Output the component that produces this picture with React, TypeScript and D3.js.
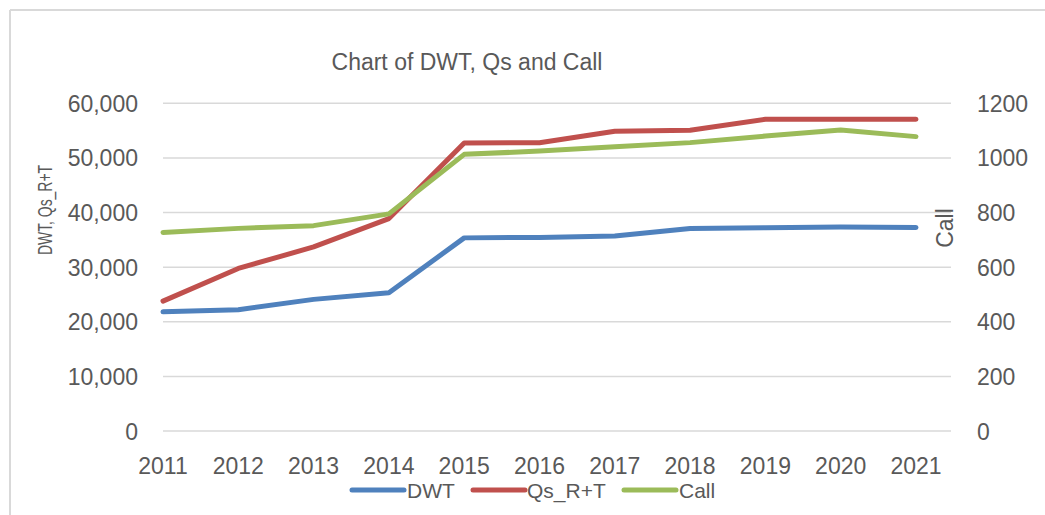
import React from 'react';
import * as d3 from 'd3';

const years = ['2011', '2012', '2013', '2014', '2015', '2016', '2017', '2018', '2019', '2020', '2021'];
const dwt = [21820, 22200, 24100, 25300, 35360, 35450, 35700, 37080, 37200, 37370, 37250];
const qsRT = [23780, 29760, 33700, 38900, 52740, 52780, 54870, 55060, 57070, 57100, 57070];
const call = [727, 742, 752, 795, 1013, 1025, 1041, 1056, 1080, 1102, 1078];
const leftTicks = [0, 10000, 20000, 30000, 40000, 50000, 60000];
const rightTicks = [0, 200, 400, 600, 800, 1000, 1200];

const W = 1045;
const H = 515;
const font = '"Liberation Sans", Arial, sans-serif';
const textColor = '#595959';

const App = () => {
    const x = d3.scalePoint().domain(years).range([163, 916]);
    const yL = d3.scaleLinear().domain([0, 60000]).range([431, 103.3]);
    const yR = d3.scaleLinear().domain([0, 1200]).range([431, 103.3]);

    const lineL = d3.line<number>()
        .x((d, i) => x(years[i]) as number)
        .y(d => yL(d));
    const lineR = d3.line<number>()
        .x((d, i) => x(years[i]) as number)
        .y(d => yR(d));

    const fmt = d3.format(',');

    const series = [
        {name: 'DWT', color: '#4F81BD', d: lineL(dwt), lx: 352, tx: 407},
        {name: 'Qs_R+T', color: '#C0504D', d: lineL(qsRT), lx: 473, tx: 527},
        {name: 'Call', color: '#9BBB59', d: lineR(call), lx: 624, tx: 679},
    ];

    return (
        <svg width={W} height={H}
            style={{position: 'absolute', left: 0, top: 0, background: '#fff'}}>
            <line x1={10} y1={10} x2={W} y2={10} stroke="#d9d9d9" strokeWidth={2} />
            <line x1={10} y1={10} x2={10} y2={H} stroke="#d9d9d9" strokeWidth={2} />

            <text x={467} y={70} textAnchor="middle" fontFamily={font}
                fontSize={23} fill={textColor}>Chart of DWT, Qs and Call</text>

            {leftTicks.map(t => (
                <line key={t} x1={163} x2={951} y1={yL(t)} y2={yL(t)}
                    stroke="#d9d9d9" strokeWidth={1.5} />
            ))}
            {leftTicks.map(t => (
                <text key={'l' + t} x={138} y={yL(t) + 8.5} textAnchor="end"
                    fontFamily={font} fontSize={23} fill={textColor}>{fmt(t)}</text>
            ))}
            {rightTicks.map(t => (
                <text key={'r' + t} x={977} y={yR(t) + 8.5} textAnchor="start"
                    fontFamily={font} fontSize={23} fill={textColor}>{t}</text>
            ))}
            {years.map(y => (
                <text key={y} x={x(y)} y={474} textAnchor="middle"
                    fontFamily={font} fontSize={23} fill={textColor}>{y}</text>
            ))}

            <text transform="translate(52,210) rotate(-90)" textAnchor="middle"
                fontFamily={font} fontSize={20} textLength={90}
                lengthAdjust="spacingAndGlyphs" fill={textColor}>DWT, Qs_R+T</text>
            <text transform="translate(953,228) rotate(-90)" textAnchor="middle"
                fontFamily={font} fontSize={23} fill={textColor}>Call</text>

            {series.map(s => (
                <path key={s.name} d={s.d || ''} fill="none" stroke={s.color}
                    strokeWidth={5} strokeLinejoin="round" strokeLinecap="round" />
            ))}

            {series.map(s => (
                <g key={'lg' + s.name}>
                    <line x1={s.lx} x2={s.lx + 52} y1={490} y2={490} stroke={s.color}
                        strokeWidth={5} strokeLinecap="round" />
                    <text x={s.tx} y={498} fontFamily={font} fontSize={21}
                        fill={textColor}>{s.name}</text>
                </g>
            ))}
        </svg>
    );
};

export default App;
